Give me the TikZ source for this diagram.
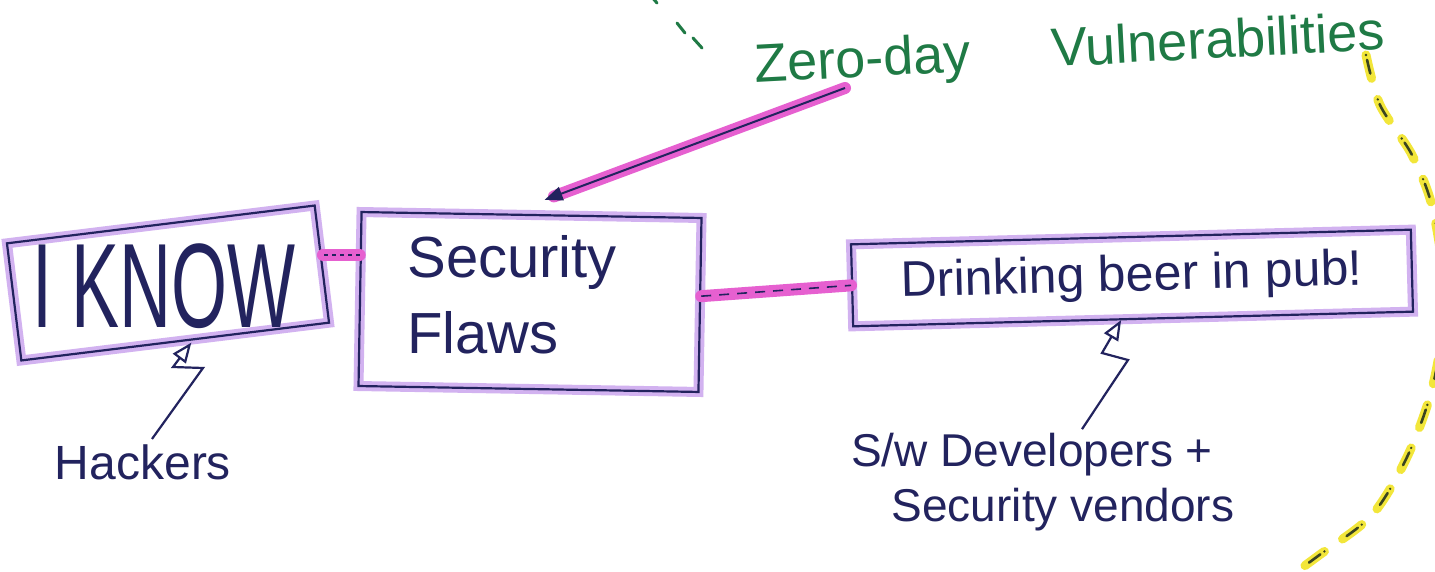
\documentclass[tikz,border=0pt]{standalone}
\usepackage{graphicx}
\usepackage{fontspec}
\setmainfont{Liberation Sans}
\usetikzlibrary{arrows.meta,calc}
\definecolor{ink}{HTML}{22235E}
\definecolor{hl}{HTML}{D2B2F0}
\definecolor{pinkhl}{HTML}{E660D0}
\definecolor{gink}{HTML}{1F7A45}
\definecolor{yhl}{HTML}{F2E63A}
\definecolor{yink}{HTML}{3A4420}
\begin{document}
\begin{tikzpicture}[x=0.5pt,y=-0.5pt,
  box/.style={rectangle, draw=ink, line width=1.1pt, inner sep=0pt,
    preaction={draw=hl, line width=5pt}},
  lbl/.style={text=ink, inner sep=1pt},
  bolt/.style={draw=ink, line width=1.1pt, line join=miter,
    -{Triangle[open,length=10pt,width=8pt,line width=1.1pt]}},
  pinkline/.style={draw=pinkhl, line width=6pt, line cap=round},
  zline/.style={draw=ink, line width=1pt, -{Triangle[length=9pt,width=7pt]}},
  yel/.style={draw=yhl, line width=4.5pt, line cap=round, dash pattern=on 12pt off 11pt},
  yelink/.style={draw=yink, line width=1.3pt, line cap=round, dash pattern=on 0pt off 2.5pt on 7pt off 13.5pt},
  gmark/.style={draw=gink, line width=1.5pt, line cap=round}]
\clip (0,0) rectangle (1435,572);
\fill[white] (0,0) rectangle (1435,572);

% boxes
\node[box, rotate=7, minimum width=155pt, minimum height=59pt] (iknow) at (168,283) {};
\node[lbl, font=\fontsize{60}{60}\selectfont] (iknowtxt) at (164,286) {\scalebox{0.6}[1]{I KNOW}};
\node[box, rotate=-1, minimum width=170pt, minimum height=87pt] (sec) at (530,302) {};
\node[lbl, anchor=north west, align=left, font=\fontsize{29}{38}\selectfont]
  (sectxt) at (405,233) {Security\\Flaws};
\node[box, rotate=1.5, minimum width=280pt, minimum height=41pt, text=ink,
  font=\fontsize{25}{25}\selectfont] (drink) at (1132,278) {Drinking beer in pub!};

% labels
\node[lbl, font=\fontsize{24}{24}\selectfont] (hackers) at (143,462) {Hackers};
\node[lbl, font=\fontsize{23}{23}\selectfont] (dev1) at (1032,455) {S/w Developers +};
\node[lbl, font=\fontsize{23}{23}\selectfont] (dev2) at (1063,510) {Security vendors};
\node[text=gink, rotate=3, inner sep=1pt, font=\fontsize{27}{27}\selectfont]
  (zero) at (1070,52) {Zero-day\hspace{1.5em}Vulnerabilities};

% pink connectors between boxes
\coordinate (c1) at ($(sec.north west)!0.25!(sec.south west)$);
\draw[pinkline] (c1) -- (iknow.east |- c1);
\draw[ink, line width=1pt, dash pattern=on 2pt off 2pt] (c1) -- (iknow.east |- c1);
\coordinate (c2) at ($(sec.north east)!0.45!(sec.south east)$);
\draw[pinkline] (c2) -- (drink.west);
\draw[ink, line width=0.8pt, dash pattern=on 5pt off 4pt] (c2) -- (drink.west);

% zero-day arrow
\coordinate (zd) at (845,88);
\draw[pinkline, shorten >=5pt] (zd) -- ([xshift=6.5pt,yshift=7pt]sec.north);
\draw[zline] (zd) -- ([xshift=6.5pt,yshift=7pt]sec.north);

% lightning arrows
\draw[bolt] ([xshift=4.5pt,yshift=1.5pt]hackers.north) -- (203,368) -- (173,367) -- ([xshift=8pt]iknow.south);
\draw[bolt] ([xshift=25pt,yshift=1pt]dev1.north) -- (1128,360) -- (1102,353) -- ([xshift=-6pt]drink.south);

% yellow dashed arc
\draw[yel] plot[smooth] coordinates {(1366,55) (1380,105) (1412,155) (1433,210) (1445,300) (1433,385) (1408,455) (1372,515) (1318,556) (1285,580)};
\draw[yelink] plot[smooth] coordinates {(1366,55) (1380,105) (1412,155) (1433,210) (1445,300) (1433,385) (1408,455) (1372,515) (1318,556) (1285,580)};

% green marks
\draw[gmark] (651,-4) -- (657,3) (677,23) -- (685,33) (693,38) -- (702,48);
\end{tikzpicture}
\end{document}
